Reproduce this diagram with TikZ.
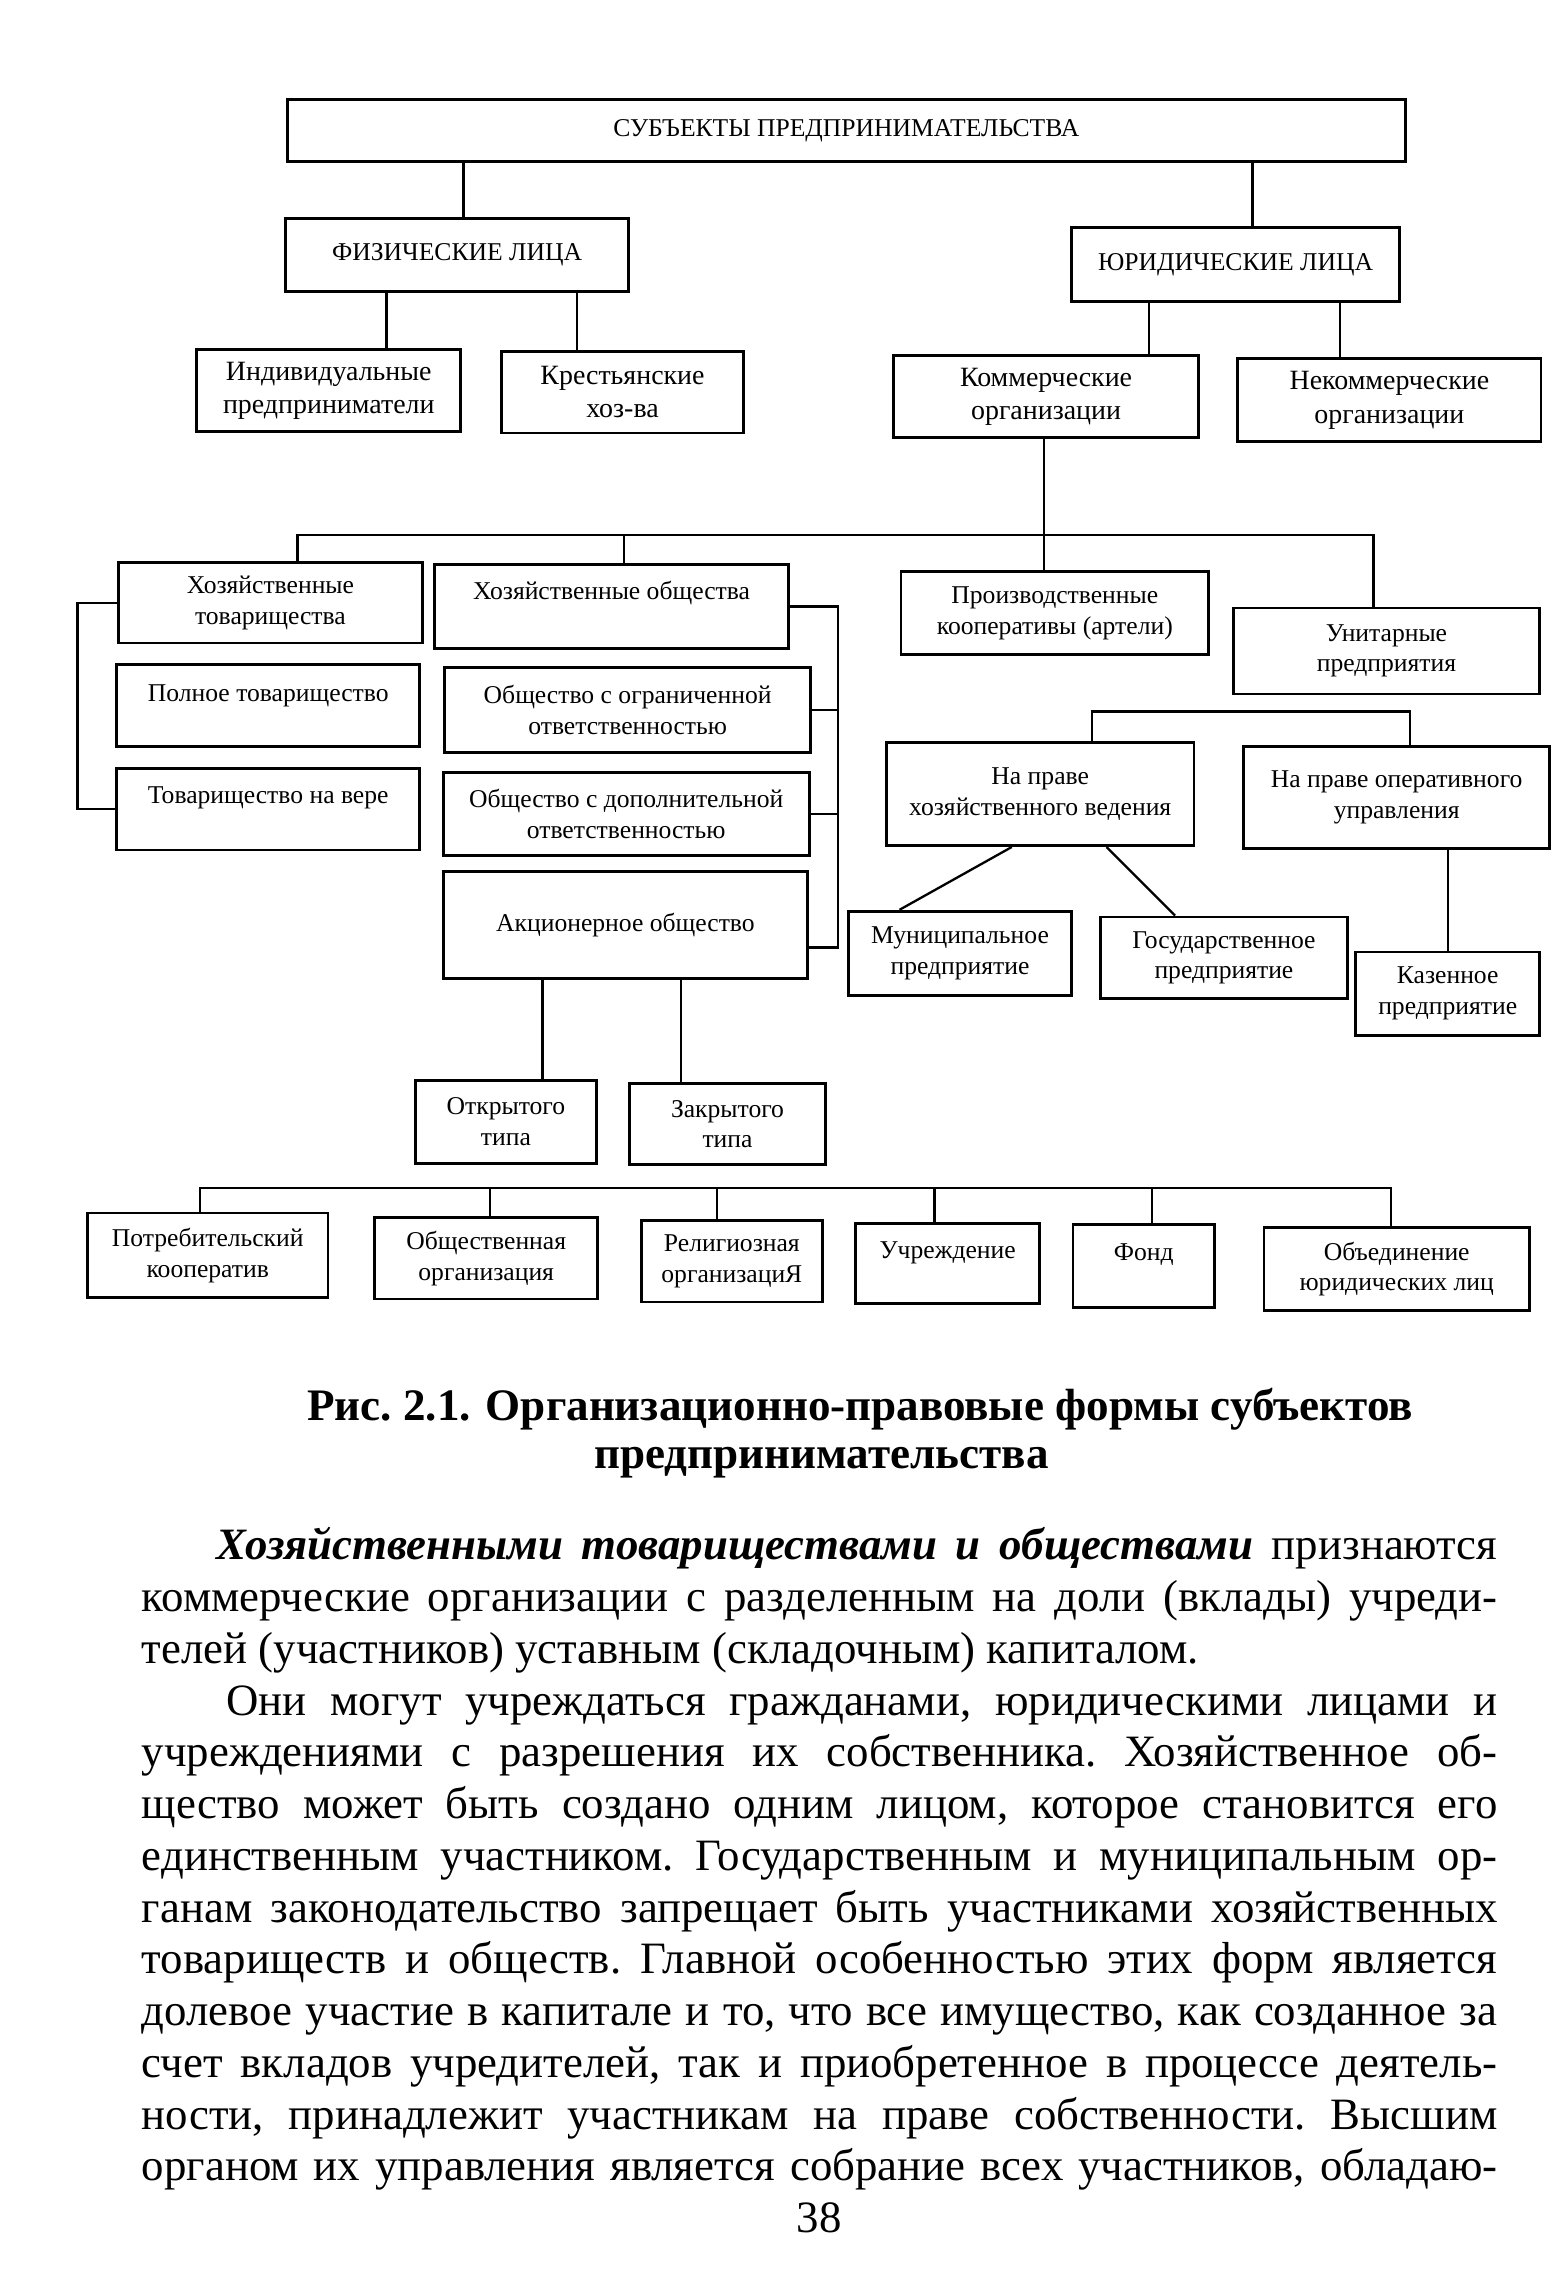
\documentclass[tikz,border=0pt]{standalone}
\usepackage{fontspec}
\setmainfont{Liberation Serif}

\begin{document}
\begin{tikzpicture}[x=0.02cm, y=-0.02cm,
  box/.style={draw, line width=1.1pt, inner sep=0pt, align=center,
    font=\fontsize{10}{12}\selectfont},
  bigbox/.style={box, font=\fontsize{10.9}{13}\selectfont},
  uptext/.style={text depth=#1},
  link/.style={line width=0.9pt}]
  \fill[white] (0,0) rectangle (1075,1568);
  \useasboundingbox (0,0) rectangle (1075,1568);

  % top levels
  \node[box, minimum width=15.34cm, minimum height=0.86cm] (subj) at (580.5,89.5) {СУБЪЕКТЫ ПРЕДПРИНИМАТЕЛЬСТВА};
  \node[box, minimum width=4.70cm, minimum height=1.00cm] (fiz) at (313.5,175) {ФИЗИЧЕСКИЕ ЛИЦА};
  \node[box, minimum width=4.50cm, minimum height=1.02cm] (yur) at (847.5,181.5) {ЮРИДИЧЕСКИЕ ЛИЦА};
  \node[bigbox, minimum width=3.62cm, minimum height=1.12cm] (ip) at (225.5,268) {Индивидуальные\\предприниматели};
  \node[bigbox, minimum width=3.32cm, minimum height=1.12cm] (kh) at (427,269) {Крестьянские\\хоз-ва};
  \node[bigbox, minimum width=4.18cm, minimum height=1.12cm] (komm) at (717.5,272) {Коммерческие\\организации};
  \node[bigbox, minimum width=4.16cm, minimum height=1.14cm] (nekomm) at (953,274.5) {Некоммерческие\\организации};

  % commercial organisations
  \node[box, minimum width=4.18cm, minimum height=1.10cm] (ht) at (185.5,413.5) {Хозяйственные\\товарищества};
  \node[box, uptext=0.43cm, minimum width=4.86cm, minimum height=1.16cm] (ho) at (419.5,416) {Хозяйственные общества};
  \node[box, uptext=0.35cm, minimum width=4.16cm, minimum height=1.12cm] (pt) at (184,484) {Полное товарищество};
  \node[box, minimum width=5.02cm, minimum height=1.16cm] (ooo) at (430.5,487) {Общество с ограниченной\\ответственностью};
  \node[box, uptext=0.39cm, minimum width=4.16cm, minimum height=1.12cm] (tv) at (184,555) {Товарищество на вере};
  \node[box, minimum width=5.02cm, minimum height=1.14cm] (odo) at (429.5,558.5) {Общество с дополнительной\\ответственностью};
  \node[box, minimum width=5.00cm, minimum height=1.46cm] (ao) at (429,634.5) {Акционерное общество};
  \node[box, minimum width=2.48cm, minimum height=1.14cm] (ot) at (347,769.5) {Открытого\\типа};
  \node[box, minimum width=2.68cm, minimum height=1.12cm] (zt) at (499,771) {Закрытого\\типа};
  \node[box, minimum width=4.22cm, minimum height=1.14cm] (pk) at (723.5,420.5) {Производственные\\кооперативы (артели)};
  \node[box, minimum width=4.20cm, minimum height=1.18cm] (up) at (951,446.5) {Унитарные\\предприятия};
  \node[box, minimum width=4.22cm, minimum height=1.42cm] (hv) at (713.5,544.5) {На праве\\хозяйственного ведения};
  \node[box, minimum width=4.20cm, minimum height=1.40cm] (ou) at (958,547) {На праве оперативного\\управления};
  \node[box, minimum width=3.06cm, minimum height=1.16cm] (mp) at (658.5,654) {Муниципальное\\предприятие};
  \node[box, minimum width=3.38cm, minimum height=1.12cm] (gp) at (839.5,657) {Государственное\\предприятие};
  \node[box, minimum width=2.52cm, minimum height=1.14cm] (kp) at (993,681.5) {Казенное\\предприятие};

  % non-commercial organisations
  \node[box, minimum width=3.30cm, minimum height=1.16cm] (potr) at (142.5,861) {Потребительский\\кооператив};
  \node[box, minimum width=3.06cm, minimum height=1.12cm] (obsh) at (333.5,863) {Общественная\\организация};
  \node[box, minimum width=2.48cm, minimum height=1.12cm] (rel) at (502,865) {Религиозная\\организациЯ};
  \node[box, uptext=0.35cm, minimum width=2.52cm, minimum height=1.10cm] (uchr) at (650,866.5) {Учреждение};
  \node[box, uptext=0.39cm, minimum width=1.94cm, minimum height=1.14cm] (fond) at (784.5,868.5) {Фонд};
  \node[box, minimum width=3.64cm, minimum height=1.14cm] (obed) at (958,870.5) {Объединение\\юридических лиц};

  % connectors
  \draw[link] (318,0 |- subj.south) -- (318,0 |- fiz.north);
  \draw[link] (859,0 |- subj.south) -- (859,0 |- yur.north);
  \draw[link] (265,0 |- fiz.south) -- (265,0 |- ip.north);
  \draw[link] (396,0 |- fiz.south) -- (396,0 |- kh.north);
  \draw[link] (788,0 |- yur.south) -- (788,0 |- komm.north);
  \draw[link] (919,0 |- yur.south) -- (919,0 |- nekomm.north);
  \draw[link] (716,0 |- komm.south) -- (716,0 |- pk.north);
  \draw[link] (204,0 |- ht.north) |- (942,367) -- (942,0 |- up.north);
  \draw[link] (428,0 |- ho.north) -- (428,367);
  \draw[link] (ht.west) -- ++(-27,0) |- (tv.west);
  \draw[link] (ho.east) -| (575,650) -- (ao.east |- 0,650);
  \draw[link] (ooo.east) -- (575,0 |- ooo.east);
  \draw[link] (odo.east) -- (575,0 |- odo.east);
  \draw[link] (749,0 |- hv.north) |- (967,488) -- (967,0 |- ou.north);
  \draw[link] (694,0 |- hv.south) -- (617,0 |- mp.north);
  \draw[link] (759,0 |- hv.south) -- (806,0 |- gp.north);
  \draw[link] (kp.north) -- (kp.north |- ou.south);
  \draw[link] (372,0 |- ao.south) -- (372,0 |- ot.north);
  \draw[link] (467,0 |- ao.south) -- (467,0 |- zt.north);
  \draw[link] (137,0 |- potr.north) |- (954,815) -- (954,0 |- obed.north);
  \foreach \x/\n in {336/obsh, 492/rel, 641/uchr, 790/fond}
    \draw[link] (\x,815) -- (\x,0 |- \n.north);

  % caption and page text
  \node[align=center, font=\bfseries\fontsize{17.6}{18.4}\selectfont] (cap) at (590,983)
    {Рис.~2.1. Организационно-правовые формы субъектов\\предпринимательства\hspace*{1.06cm}};
  \node[anchor=base west, inner sep=0pt, text width=18.6cm, align=justify,
    font=\fontsize{17.5}{20.2}\selectfont] (body) at (97,1070)
    {\frenchspacing
    \hspace*{1.02cm}\textbf{\textit{Хозяйственными товариществами и обществами}} признаются\linebreak
    коммерческие организации с разделенным на доли (вклады) учреди-\linebreak
    телей (участников) уставным (складочным) капиталом.\par
    \hspace*{1.16cm}Они могут учреждаться гражданами, юридическими лицами и\linebreak
    учреждениями с разрешения их собственника. Хозяйственное об-\linebreak
    щество может быть создано одним лицом, которое становится его\linebreak
    единственным участником. Государственным и муниципальным ор-\linebreak
    ганам законодательство запрещает быть участниками хозяйственных\linebreak
    товариществ и обществ. Главной особенностью этих форм является\linebreak
    долевое участие в капитале и то, что все имущество, как созданное за\linebreak
    счет вкладов учредителей, так и приобретенное в процессе деятель-\linebreak
    ности, принадлежит участникам на праве собственности. Высшим\linebreak
    органом их управления является собрание всех участников, обладаю-\parfillskip=0pt\par};
  \node[anchor=base, font=\fontsize{17.5}{20}\selectfont] (page) at (562,1531) {38};
\end{tikzpicture}
\end{document}
